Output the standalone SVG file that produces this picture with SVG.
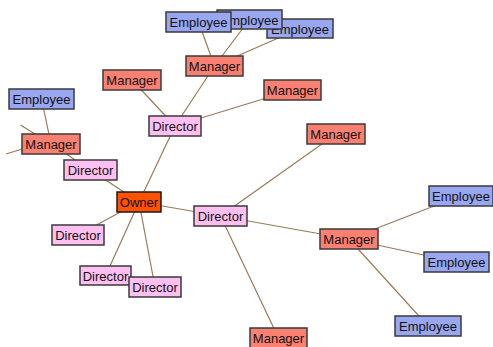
<svg xmlns="http://www.w3.org/2000/svg" width="493" height="347" viewBox="0 0 493 347">
  <style>
    .edge { stroke: #9c7a58; stroke-width: 1.2; fill: none; }
    .box { stroke: #3a3a3a; stroke-width: 1.5; }
    .owner { fill: #ff5200; stroke: #1a1a1a; }
    .director { fill: #ffbff0; }
    .manager { fill: #fa8072; }
    .employee { fill: #98a7f0; }
    text { font-family: "Liberation Sans", Arial, sans-serif; font-size: 13px; fill: #111; text-anchor: middle; }
  </style>
  <rect width="493" height="347" fill="#ffffff"/>

  <g id="connectors">
    <!-- owner to directors -->
    <line class="edge" x1="139" y1="202" x2="175" y2="126"/>
    <line class="edge" x1="139" y1="202" x2="90.5" y2="170"/>
    <line class="edge" x1="139" y1="202" x2="78" y2="235"/>
    <line class="edge" x1="139" y1="202" x2="105.5" y2="276"/>
    <line class="edge" x1="139" y1="202" x2="155" y2="287"/>
    <line class="edge" x1="139" y1="202" x2="220.5" y2="216"/>
    <!-- directors to managers -->
    <line class="edge" x1="175" y1="126" x2="132" y2="80"/>
    <line class="edge" x1="175" y1="126" x2="214.5" y2="66"/>
    <line class="edge" x1="175" y1="126" x2="292.5" y2="90"/>
    <line class="edge" x1="90.5" y1="170" x2="51" y2="144"/>
    <line class="edge" x1="220.5" y1="216" x2="336" y2="134"/>
    <line class="edge" x1="220.5" y1="216" x2="349" y2="239"/>
    <line class="edge" x1="220.5" y1="216" x2="278.5" y2="338"/>
    <!-- managers to employees -->
    <line class="edge" x1="214.5" y1="66" x2="198.5" y2="22"/>
    <line class="edge" x1="214.5" y1="66" x2="249.5" y2="19.5"/>
    <line class="edge" x1="214.5" y1="66" x2="300" y2="28.5"/>
    <line class="edge" x1="51" y1="144" x2="41.5" y2="99"/>
    <line class="edge" x1="51" y1="144" x2="20.5" y2="125"/>
    <line class="edge" x1="24" y1="148.5" x2="6" y2="154"/>
    <line class="edge" x1="349" y1="239" x2="460" y2="196"/>
    <line class="edge" x1="349" y1="239" x2="456.5" y2="262"/>
    <line class="edge" x1="349" y1="239" x2="428" y2="326"/>
  </g>

  <g id="employee-3"><rect class="box employee" x="267" y="19" width="66" height="19"/><text x="300" y="33.5">Employee</text></g>
  <g id="employee-2"><rect class="box employee" x="217" y="10" width="65" height="19"/><text x="249.5" y="24.5">Employee</text></g>
  <g id="employee-1"><rect class="box employee" x="166" y="12" width="65" height="20"/><text x="198.5" y="27">Employee</text></g>
  <g id="employee-4"><rect class="box employee" x="9" y="89" width="65" height="20"/><text x="41.5" y="104">Employee</text></g>
  <g id="employee-5"><rect class="box employee" x="429" y="186" width="64" height="20"/><text x="461" y="201">Employee</text></g>
  <g id="employee-6"><rect class="box employee" x="424" y="252" width="65" height="20"/><text x="456.5" y="267">Employee</text></g>
  <g id="employee-7"><rect class="box employee" x="395" y="316" width="66" height="20"/><text x="428" y="331">Employee</text></g>

  <g id="manager-1"><rect class="box manager" x="103" y="70" width="58" height="20"/><text x="132" y="85">Manager</text></g>
  <g id="manager-2"><rect class="box manager" x="186" y="56" width="57" height="20"/><text x="214.5" y="71">Manager</text></g>
  <g id="manager-3"><rect class="box manager" x="264" y="80" width="57" height="20"/><text x="292.5" y="95">Manager</text></g>
  <g id="manager-4"><rect class="box manager" x="22" y="134" width="58" height="20"/><text x="51" y="149">Manager</text></g>
  <g id="manager-5"><rect class="box manager" x="307" y="124" width="58" height="20"/><text x="336" y="139">Manager</text></g>
  <g id="manager-6"><rect class="box manager" x="320" y="229" width="58" height="20"/><text x="349" y="244">Manager</text></g>
  <g id="manager-7"><rect class="box manager" x="250" y="328" width="57" height="20"/><text x="278.5" y="343">Manager</text></g>

  <g id="director-1"><rect class="box director" x="149" y="116" width="52" height="20"/><text x="175" y="131">Director</text></g>
  <g id="director-2"><rect class="box director" x="64" y="160" width="53" height="20"/><text x="90.5" y="175">Director</text></g>
  <g id="director-3"><rect class="box director" x="52" y="225" width="52" height="20"/><text x="78" y="240">Director</text></g>
  <g id="director-4"><rect class="box director" x="80" y="266" width="51" height="19"/><text x="105.5" y="280.5">Director</text></g>
  <g id="director-5"><rect class="box director" x="129" y="277" width="52" height="20"/><text x="155" y="292">Director</text></g>
  <g id="director-6"><rect class="box director" x="194" y="206" width="53" height="20"/><text x="220.5" y="221">Director</text></g>

  <g id="owner"><rect class="box owner" x="117" y="192" width="44" height="20"/><text x="139" y="207">Owner</text></g>
</svg>
